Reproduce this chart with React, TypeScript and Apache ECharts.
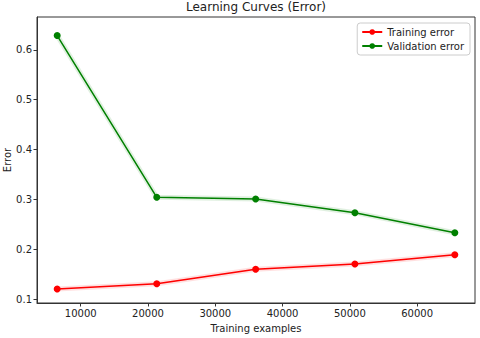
import React, { useEffect, useRef } from "react";
import * as echarts from "echarts";

const trainSizes = [6500, 21300, 36000, 50750, 65600];
const trainingError = [0.12, 0.1307, 0.1596, 0.1703, 0.189];
const validationError = [0.6287, 0.3042, 0.3008, 0.2733, 0.2331];
const xTicks = [10000, 20000, 30000, 40000, 50000, 60000];
const yTicks = [0.1, 0.2, 0.3, 0.4, 0.5, 0.6];

const FONT = "DejaVu Sans";

export default function App() {
  const ref = useRef<HTMLDivElement>(null);
  useEffect(() => {
    const chart = echarts.init(ref.current!, null, { renderer: "svg" });
    const pairs = (vals: number[]) => trainSizes.map((x, i) => [x, vals[i]]);
    chart.setOption({
      animation: false,
      backgroundColor: "#fff",
      title: {
        text: "Learning Curves (Error)",
        left: 256,
        textAlign: "center",
        top: 1,
        padding: 0,
        textStyle: { fontFamily: FONT, fontSize: 12, fontWeight: "normal", color: "#222" },
      },
      grid: {
        left: 37,
        right: 5,
        top: 17,
        bottom: 35,
        containLabel: false,
        outerBoundsMode: "none",
        show: true,
        borderColor: "#333",
        borderWidth: 1,
        backgroundColor: "transparent",
      },
      legend: {
        orient: "vertical",
        right: 10,
        top: 23,
        padding: [4, 6, 4, 4],
        itemGap: 4,
        itemWidth: 20,
        itemHeight: 7,
        borderColor: "#ccc",
        borderWidth: 1,
        borderRadius: 3,
        backgroundColor: "rgba(255,255,255,0.8)",
        textStyle: { fontFamily: FONT, fontSize: 10, color: "#222" },
        data: ["Training error", "Validation error"],
      },
      xAxis: {
        type: "value",
        min: 3500,
        max: 68600,
        name: "Training examples",
        nameLocation: "middle",
        nameGap: 20,
        nameMoveOverlap: false,
        nameTextStyle: { fontFamily: FONT, fontSize: 10, color: "#222" },
        axisLine: { show: true, lineStyle: { color: "#333" } },
        axisTick: { show: true, length: 3.5, customValues: xTicks, lineStyle: { color: "#333" } },
        axisLabel: {
          customValues: xTicks,
          fontFamily: FONT,
          fontSize: 10,
          color: "#222",
          margin: 5,
          formatter: (v: number) => String(Math.round(v)),
        },
        splitLine: { show: false },
      },
      yAxis: {
        type: "value",
        min: 0.092,
        max: 0.666,
        name: "Error",
        nameLocation: "middle",
        nameGap: 25,
        nameMoveOverlap: false,
        nameTextStyle: { fontFamily: FONT, fontSize: 10, color: "#222" },
        axisLine: { show: true, lineStyle: { color: "#333" } },
        axisTick: { show: true, length: 3.5, customValues: yTicks, lineStyle: { color: "#333" } },
        axisLabel: {
          customValues: yTicks,
          fontFamily: FONT,
          fontSize: 10,
          color: "#222",
          margin: 5,
          formatter: (v: number) => v.toFixed(1),
        },
        splitLine: { show: false },
      },
      series: [
        {
          name: "band-train",
          type: "line",
          data: pairs(trainingError),
          symbol: "none",
          silent: true,
          lineStyle: { color: "rgba(255,0,0,0.12)", width: 5 },
          z: 1,
        },
        {
          name: "band-valid",
          type: "line",
          data: pairs(validationError),
          symbol: "none",
          silent: true,
          lineStyle: { color: "rgba(0,128,0,0.12)", width: 5 },
          z: 1,
        },
        {
          name: "Training error",
          type: "line",
          data: pairs(trainingError),
          symbol: "circle",
          symbolSize: 7,
          itemStyle: { color: "#ff0000" },
          lineStyle: { color: "#ff0000", width: 1.5 },
          z: 3,
        },
        {
          name: "Validation error",
          type: "line",
          data: pairs(validationError),
          symbol: "circle",
          symbolSize: 7,
          itemStyle: { color: "#008000" },
          lineStyle: { color: "#008000", width: 1.5 },
          z: 3,
        },
      ],
    });
    return () => chart.dispose();
  }, []);
  return <div ref={ref} style={{ width: 480, height: 338, position: "absolute", left: 0, top: 0 }} />;
}
